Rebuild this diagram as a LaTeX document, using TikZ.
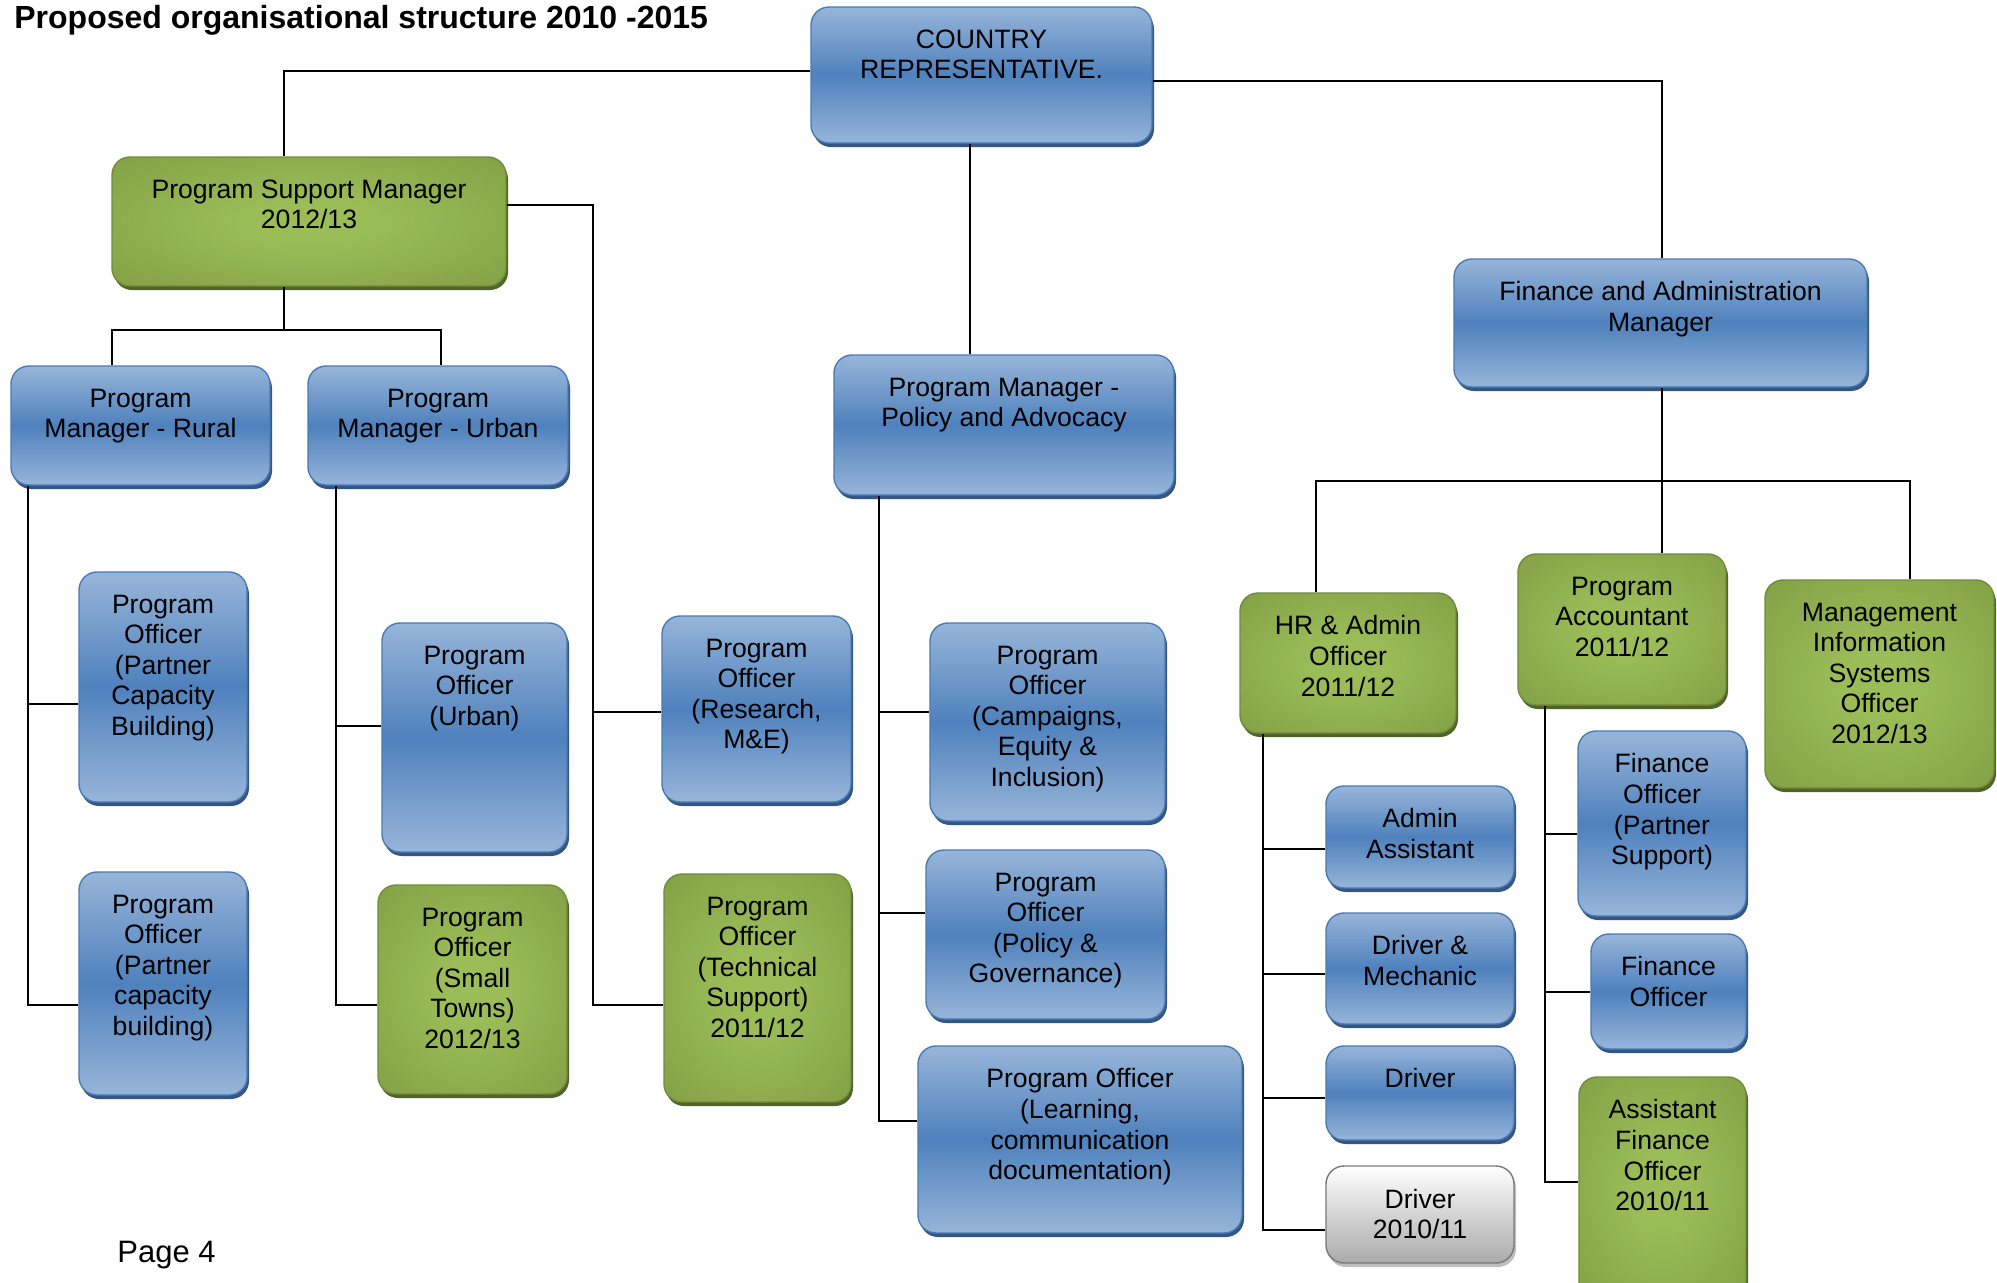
\documentclass[tikz,border=0pt]{standalone}
\usepackage{fontspec}
\setmainfont{Liberation Sans}
\usetikzlibrary{fit,shadows}
\definecolor{bL}{RGB}{151,181,217}
\definecolor{bD}{RGB}{79,129,189}
\definecolor{bB}{RGB}{74,122,182}
\definecolor{bS}{RGB}{52,86,130}
\definecolor{gL}{RGB}{155,189,88}
\definecolor{gD}{RGB}{118,146,60}
\definecolor{gB}{RGB}{112,139,58}
\definecolor{gS}{RGB}{80,99,40}
\definecolor{grD}{RGB}{170,170,170}
\definecolor{grB}{RGB}{120,120,120}
\definecolor{grS}{RGB}{190,190,190}
\pgfdeclareradialshading{greenrad}{\pgfpoint{0bp}{0bp}}{color(0bp)=(gL); color(8bp)=(gL); color(50bp)=(gD); color(75bp)=(gD)}
\tikzset{
  orgbase/.style={rounded corners=9pt, inner sep=0pt, line width=0.7pt},
  bluebox/.style={orgbase, draw=bB, top color=bL, bottom color=bL, middle color=bD,
    drop shadow={shadow xshift=1pt, shadow yshift=-2pt, fill=bS, opacity=1}},
  greenbox/.style={orgbase, draw=gB, shade, shading=greenrad,
    drop shadow={shadow xshift=1pt, shadow yshift=-2pt, fill=gS, opacity=1}},
  greybox/.style={orgbase, draw=grB, top color=white, bottom color=grD,
    drop shadow={shadow xshift=1pt, shadow yshift=-2pt, fill=grS, opacity=1}},
  lbl/.style={anchor=north, align=center, inner sep=0pt, font=\fontsize{13.3}{15.3}\selectfont},
  conn/.style={draw=black, line width=0.8pt},
}
\newcommand\orgbox[7]{%
  \node[#1, fit={(#3,#4) (#5,#6)}] (#2) {};
  \node[lbl] (#2-t) at ([yshift=-11.5pt]#2.north) {#7};
}
\begin{document}
\begin{tikzpicture}[x=0.5pt,y=-0.5pt]
\useasboundingbox (0,0) rectangle (1997,1282);
\clip (0,0) rectangle (1997,1282);

\node[anchor=base west, inner sep=0pt, font=\bfseries\fontsize{16}{19}\selectfont] (title) at (14,28) {Proposed organisational structure 2010 -2015};
\node[anchor=base west, inner sep=0pt, font=\fontsize{15.5}{18}\selectfont] (page) at (117,1262) {Page 4};

\orgbox{bluebox}{cr}{811}{7}{1152}{143}{COUNTRY\\REPRESENTATIVE.}
\orgbox{greenbox}{psm}{112}{157}{506}{286}{Program Support Manager\\2012/13}
\orgbox{bluebox}{pmr}{11}{366}{270}{485}{Program\\Manager - Rural}
\orgbox{bluebox}{pmu}{308}{366}{568}{485}{Program\\Manager - Urban}
\orgbox{bluebox}{pmp}{834}{355}{1174}{495}{Program Manager -\\Policy and Advocacy}
\orgbox{bluebox}{fam}{1454}{259}{1867}{387}{Finance and Administration\\Manager}
\orgbox{bluebox}{po1}{79}{572}{247}{802}{Program\\Officer\\(Partner\\Capacity\\Building)}
\orgbox{bluebox}{po2}{79}{872}{247}{1095}{Program\\Officer\\(Partner\\capacity\\building)}
\orgbox{bluebox}{pou}{382}{623}{567}{852}{Program\\Officer\\(Urban)}
\orgbox{greenbox}{pos}{378}{885}{567}{1094}{Program\\Officer\\(Small\\Towns)\\2012/13}
\orgbox{bluebox}{por}{662}{616}{851}{802}{Program\\Officer\\(Research,\\M\&E)}
\orgbox{greenbox}{pot}{664}{874}{851}{1102}{Program\\Officer\\(Technical\\Support)\\2011/12}
\orgbox{bluebox}{poc}{930}{623}{1165}{821}{Program\\Officer\\(Campaigns,\\Equity \&\\Inclusion)}
\orgbox{bluebox}{pog}{926}{850}{1165}{1019}{Program\\Officer\\(Policy \&\\Governance)}
\orgbox{bluebox}{pol}{918}{1046}{1242}{1233}{Program Officer\\(Learning,\\communication\\documentation)}
\orgbox{greenbox}{hr}{1240}{593}{1456}{733}{HR \& Admin\\Officer\\2011/12}
\orgbox{greenbox}{pa}{1518}{554}{1726}{705}{Program\\Accountant\\2011/12}
\orgbox{greenbox}{mis}{1765}{580}{1994}{788}{Management\\Information\\Systems\\Officer\\2012/13}
\orgbox{bluebox}{aa}{1326}{786}{1514}{888}{Admin\\Assistant}
\orgbox{bluebox}{dm}{1326}{913}{1514}{1024}{Driver \&\\Mechanic}
\orgbox{bluebox}{dr}{1326}{1046}{1514}{1140}{Driver}
\orgbox{greybox}{dr2}{1326}{1166}{1514}{1263}{Driver\\2010/11}
\orgbox{bluebox}{fop}{1578}{731}{1746}{916}{Finance\\Officer\\(Partner\\Support)}
\orgbox{bluebox}{fo}{1591}{934}{1746}{1049}{Finance\\Officer}
\orgbox{greenbox}{afo}{1579}{1077}{1746}{1300}{Assistant\\Finance\\Officer\\2010/11}

% connectors
\draw[conn] ([yshift=2pt]cr.west) -| (psm.north -| 284,0);
\draw[conn] ([yshift=-3pt]cr.east) -| (fam.north -| 1662,0);
\draw[conn] (cr.south -| 970,0) -- (pmp.north -| 970,0);
\draw[conn] (psm.south -| 284,0) -- (284,330);
\draw[conn] (pmr.north -| 112,0) -- (112,330) -- (441,330) -- (pmu.north -| 441,0);
\draw[conn] (psm.east |- 0,205) -| (593,1005) -- (pot.west |- 0,1005);
\draw[conn] (593,712) -- (por.west |- 0,712);
\draw[conn] (pmr.south -| 28,0) -- (28,1005) -- (po2.west |- 0,1005);
\draw[conn] (28,704) -- (po1.west |- 0,704);
\draw[conn] (pmu.south -| 336,0) -- (336,1005) -- (pos.west |- 0,1005);
\draw[conn] (336,726) -- (pou.west |- 0,726);
\draw[conn] (pmp.south -| 879,0) -- (879,1121) -- (pol.west |- 0,1121);
\draw[conn] (879,712) -- (poc.west |- 0,712);
\draw[conn] (879,913) -- (pog.west |- 0,913);
\draw[conn] (fam.south -| 1662,0) -- (pa.north -| 1662,0);
\draw[conn] (hr.north -| 1316,0) -- (1316,481) -- (1910,481) -- (mis.north -| 1910,0);
\draw[conn] (hr.south -| 1263,0) -- (1263,1230) -- (dr2.west |- 0,1230);
\draw[conn] (1263,849) -- (aa.west |- 0,849);
\draw[conn] (1263,974) -- (dm.west |- 0,974);
\draw[conn] (1263,1098) -- (dr.west |- 0,1098);
\draw[conn] (pa.south -| 1545,0) -- (1545,1182) -- (afo.west |- 0,1182);
\draw[conn] (1545,834) -- (fop.west |- 0,834);
\draw[conn] (1545,992) -- (fo.west |- 0,992);
\end{tikzpicture}
\end{document}
